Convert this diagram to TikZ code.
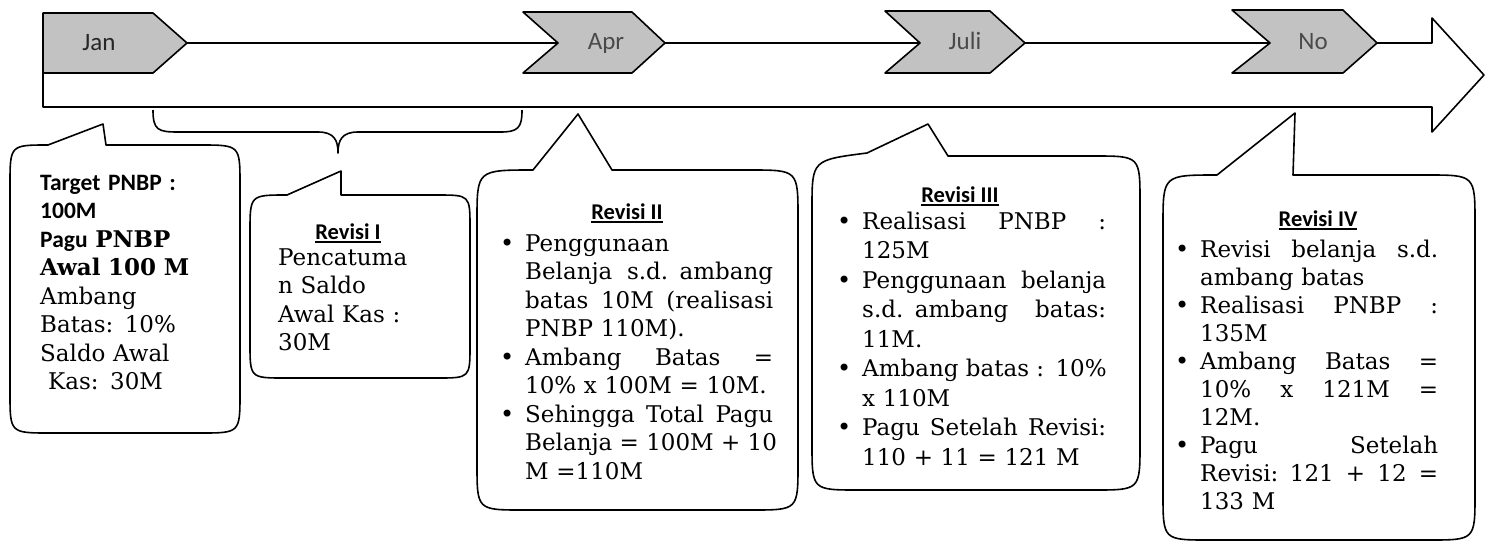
\documentclass[tikz,border=0pt]{standalone}
\usepackage{fontspec}
\setmainfont{DejaVu Serif}
\newfontfamily\calfont{Carlito}
\definecolor{chev}{HTML}{C2C2C2}
\definecolor{lbl}{HTML}{4A4A4A}
\newcommand\myul[1]{\setbox0=\hbox{#1}\rlap{\rule[-3.5pt]{\wd0}{1.6pt}}\box0}
\newcommand\bul{\llap{\makebox[25pt][l]{\raisebox{0pt}{\fontsize{24}{24}\selectfont\textbullet}}}}
\newcommand\jw{240pt}
\newcommand\jl[1]{\leavevmode\hbox to \jw{\spaceskip=\fontdimen2\font plus 10em\relax #1}}
\newcommand\bjl[1]{\leavevmode\hbox to \jw{\spaceskip=\fontdimen2\font plus 10em\relax\bul #1}}
\begin{document}
\begin{tikzpicture}[x=1pt,y=-1pt,
  outline/.style={line width=1.6pt, line join=round},
  chevron/.style={outline, fill=chev},
  callout/.style={outline, fill=white},
  monthlbl/.style={anchor=base, inner sep=0pt, font=\calfont\fontsize{25}{25}\selectfont, text=lbl},
  body/.style={anchor=base west, inner sep=0pt, align=left, font=\fontsize{23}{28.5}\selectfont, text=black},
  ttl/.style={anchor=base, inner sep=0pt, font=\calfont\bfseries\fontsize{22.5}{22.5}\selectfont, text=black}]
\useasboundingbox (0,0) rectangle (1489,542);
\fill[white] (0,0) rectangle (1489,542);

% main arrow
\draw[outline, fill=white] (43,43) -- (1432,43) -- (1432,18) -- (1484,75) -- (1432,132) -- (1432,107) -- (43,107) -- cycle;

% chevrons
\draw[chevron] (43,13) -- (153,13) -- (187,43) -- (153,73) -- (43,73) -- cycle;
\draw[chevron] (523,12) -- (632,12) -- (665,43) -- (632,73) -- (523,73) -- (558,43) -- cycle;
\draw[chevron] (885,11) -- (990,11) -- (1025,43) -- (990,73) -- (885,73) -- (920,43) -- cycle;
\draw[chevron] (1232,10) -- (1343,10) -- (1377,43) -- (1343,73) -- (1232,73) -- (1270,43) -- cycle;
\node[monthlbl, text=black!85] (jan) at (99,50) {Jan};
\node[monthlbl] (apr) at (606,49) {Apr};
\node[monthlbl] (juli) at (965,49) {Juli};
\node[monthlbl] (nov) at (1313,49) {No};

% brace
\draw[outline] (153,110) .. controls (153,130) and (158,132) .. (178,132) -- (318,132)
  .. controls (334,132) and (338,140) .. (338,153)
  .. controls (338,140) and (342,132) .. (358,132) -- (500,132)
  .. controls (518,132) and (522,128) .. (522,110);

% callouts
\draw[callout] (106,145) -- (200,145) .. controls (240,145) .. (240,185) -- (240,393)
  .. controls (240,433) .. (200,433) -- (50,433) .. controls (10,433) .. (10,393)
  -- (10,185) .. controls (10,145) .. (48,145) -- (103,124) -- cycle;
\draw[callout] (341,195) -- (437,195) .. controls (470,195) .. (470,228) -- (470,345)
  .. controls (470,378) .. (437,378) -- (285,378) .. controls (250,378) .. (250,343)
  -- (250,232) .. controls (250,195) .. (287,195) -- (341,171) -- cycle;
\draw[callout] (612,170) -- (750,170) .. controls (798,170) .. (798,218) -- (798,464)
  .. controls (798,510) .. (752,510) -- (523,510) .. controls (477,510) .. (477,464)
  -- (477,220) .. controls (477,170) .. (533,170) -- (578,114) -- cycle;
\draw[callout] (948,156) -- (1094,156) .. controls (1140,156) .. (1140,202) -- (1140,444)
  .. controls (1140,490) .. (1094,490) -- (858,490) .. controls (812,490) .. (812,444)
  -- (812,208) .. controls (812,160) .. (867,153) -- (928,124) -- cycle;
\draw[callout] (1293,175) -- (1427,175) .. controls (1475,175) .. (1475,223) -- (1475,494)
  .. controls (1475,540) .. (1429,540) -- (1209,540) .. controls (1163,540) .. (1163,494)
  -- (1163,225) .. controls (1163,175) .. (1217,175) -- (1295,113) -- cycle;

% texts
\node[body, text width=200pt] (jantext) at (40,190) {%
{\calfont\bfseries\fontsize{23.5}{28.5}\selectfont Target PNBP :}\\
{\calfont\bfseries\fontsize{23.5}{28.5}\selectfont 100M}\\
{\calfont\bfseries\fontsize{23.5}{28.5}\selectfont Pagu} \textbf{PNBP}\\
\textbf{Awal 100 M}\\
Ambang\\
Batas: 10\%\\
Saldo Awal\\
\hspace*{8pt}Kas: 30M};

\node[ttl] (t1) at (348,239) {\myul{Revisi I}};
\node[body, text width=180pt] (r1) at (278,265) {%
Pencatuma\\
n Saldo\\
Awal Kas :\\
30M};

\node[ttl] (t2) at (627,219) {\myul{Revisi II}};
\node[body, text width=260pt, font=\fontsize{23}{28.5}\selectfont] (r2) at (525,251) {%
\renewcommand\jw{248pt}%
\bul Penggunaan\\
\jl{Belanja s.d. ambang}\\
\jl{batas 10M (realisasi}\\
PNBP 110M).\\
\bjl{Ambang Batas =}\\
10\% x 100M = 10M.\\
\bjl{Sehingga Total Pagu}\\
\jl{Belanja = 100M + 10}\\
M =110M};

\node[ttl] (t3) at (960,202) {\myul{Revisi III}};
\node[body, text width=260pt, font=\fontsize{23}{29.5}\selectfont] (r3) at (862,229) {%
\renewcommand\jw{244pt}%
\bjl{Realisasi PNBP :}\\
125M\\
\bjl{Penggunaan belanja}\\
\jl{s.d. ambang batas:}\\
11M.\\
\bjl{Ambang batas : 10\%}\\
x 110M\\
\bjl{Pagu Setelah Revisi:}\\
110 + 11 = 121 M};

\node[ttl] (t4) at (1318,226) {\myul{Revisi IV}};
\node[body, text width=260pt, font=\fontsize{23}{28}\selectfont] (r4) at (1200,257) {%
\renewcommand\jw{238pt}%
\bjl{Revisi belanja s.d.}\\
ambang batas\\
\bjl{Realisasi PNBP :}\\
135M\\
\bjl{Ambang Batas =}\\
\jl{10\% x 121M =}\\
12M.\\
\bjl{Pagu Setelah}\\
\jl{Revisi: 121 + 12 =}\\
133 M};
\end{tikzpicture}
\end{document}
